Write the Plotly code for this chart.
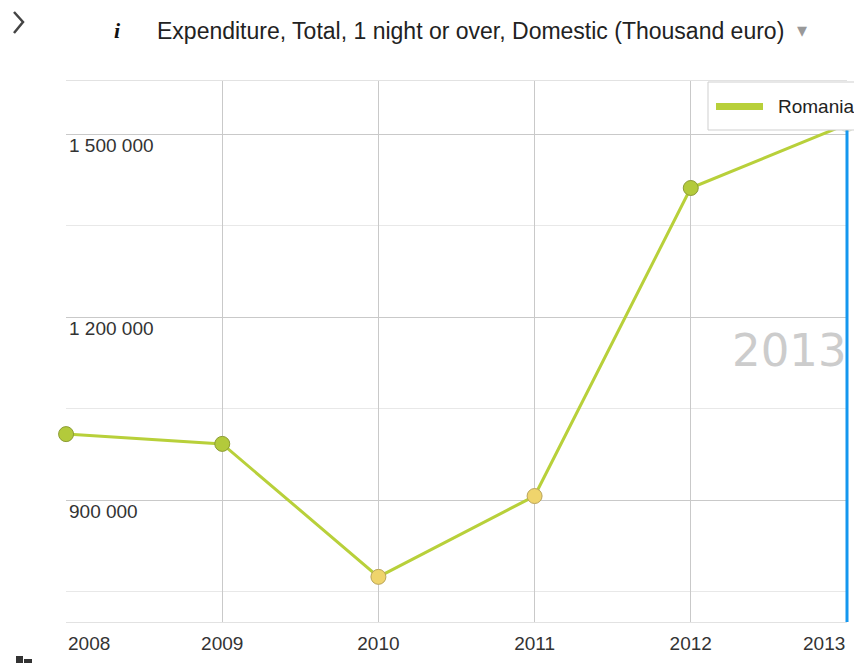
import plotly.graph_objects as go

years = [2008, 2009, 2010, 2011, 2012, 2013]
values = [1008000, 992000, 774000, 906500, 1411500, 1516000]
marker_fill = ["#b3ca3b", "#b3ca3b", "#efd46c", "#efd46c", "#b3ca3b", "#f4f6ea"]
marker_edge = ["#8c9c35", "#8c9c35", "#b9a45a", "#b9a45a", "#8c9c35", "#dfe3cf"]
series_name = "Romania"
title_text = "Expenditure, Total, 1 night or over, Domestic (Thousand euro)"
y_ticks = [900000, 1200000, 1500000]
y_tick_labels = ["900 000", "1 200 000", "1 500 000"]
highlight_year = 2013
Y_MIN, Y_MAX = 700000, 1586900

FONT = "Liberation Sans, Arial, sans-serif"
LINE_COLOR = "#b8d03a"

# page has an 8px body margin; figure sized to fit the 862x663 window
W, H = 854, 655
L, R, T, B = 58, 15, 73, 41
PW, PH = W - L - R, H - T - B


def px(x):  # page x -> paper x
    return (x - 8 - L) / PW


def py(y):  # page y -> paper y
    return (H - B - (y - 8)) / PH


fig = go.Figure()
fig.add_trace(go.Scatter(
    x=years, y=values, mode="lines+markers", name=series_name, showlegend=False,
    line=dict(color=LINE_COLOR, width=3),
    marker=dict(size=15, color=marker_fill, line=dict(color=marker_edge, width=1)),
    cliponaxis=False, hoverinfo="x+y",
))

# highlighted year cursor (x position derived from the data)
hv = values[years.index(highlight_year)]
hx = (highlight_year - years[0]) / (years[-1] - years[0])
fig.add_shape(type="line", xref="paper", yref="y", x0=hx, x1=hx,
              y0=Y_MIN, y1=hv - 6000, line=dict(color="#1497ef", width=3), layer="above")

# legend box (drawn manually to match the original widget)
fig.add_shape(type="rect", xref="paper", yref="paper", x0=px(708), x1=px(870), y0=py(130), y1=py(82),
              fillcolor="white", line=dict(color="#cfcfcf", width=1), layer="above")
fig.add_shape(type="line", xref="paper", yref="paper", x0=px(716), x1=px(763), y0=py(106.5), y1=py(106.5),
              line=dict(color=LINE_COLOR, width=7), layer="above")

# chevron at the top-left
fig.add_shape(type="path", xref="paper", yref="paper",
              path=f"M {px(14)},{py(12)} L {px(23)},{py(22)} L {px(14)},{py(33)}",
              line=dict(color="#444", width=2.5))

# small cut-off icon at the bottom-left corner
fig.add_shape(type="rect", xref="paper", yref="paper", x0=px(16), x1=px(23), y0=py(664), y1=py(656),
              fillcolor="#333", line=dict(width=0))
fig.add_shape(type="rect", xref="paper", yref="paper", x0=px(24), x1=px(32), y0=py(664), y1=py(659),
              fillcolor="#333", line=dict(width=0))

# x labels: inner years as tick labels, edge years as inward-aligned annotations
x_ticktext = ["" if i in (0, len(years) - 1) else str(y) for i, y in enumerate(years)]
edge_labels = [
    dict(text=str(years[0]), xref="x", yref="paper", x=years[0], y=py(643),
         xanchor="left", yanchor="middle", showarrow=False,
         font=dict(size=19, color="#333", family=FONT)),
    dict(text=str(years[-1]), xref="x", yref="paper", x=years[-1], y=py(643),
         xanchor="right", yanchor="middle", showarrow=False,
         font=dict(size=19, color="#333", family=FONT)),
]

fig.update_layout(
    width=W, height=H,
    margin=dict(l=L, r=R, t=T, b=B),
    paper_bgcolor="white", plot_bgcolor="white",
    font=dict(family=FONT, size=19, color="#333333"),
    showlegend=False,
    xaxis=dict(range=[years[0] - 0.0005, years[-1] + 0.0005], tickmode="array", tickvals=years,
               ticktext=x_ticktext, automargin=False,
               showgrid=True, gridcolor="#c9c9c9", gridwidth=1,
               zeroline=False, showline=True, linecolor="#e2e2e2", mirror=True,
               ticks="", ticklabelstandoff=4, tickfont=dict(size=19, color="#333")),
    yaxis=dict(range=[Y_MIN, Y_MAX], tickmode="array", tickvals=y_ticks, automargin=False,
               ticktext=y_tick_labels, ticklabelposition="inside bottom", ticklabelshift=-2,
               showgrid=True, gridcolor="#c9c9c9", gridwidth=1,
               minor=dict(dtick=150000, tick0=0, showgrid=True, gridcolor="#e8e8e8", gridwidth=1),
               zeroline=False, showline=False, ticks="",
               tickfont=dict(size=19, color="#333")),
    annotations=edge_labels + [
        dict(text=title_text, xref="paper", yref="paper", x=px(470.5), y=py(31),
             xanchor="center", yanchor="middle", showarrow=False,
             font=dict(size=23, color="#222", family=FONT)),
        dict(text="<b><i>i</i></b>", xref="paper", yref="paper", x=px(117), y=py(31),
             xanchor="center", yanchor="middle", showarrow=False,
             font=dict(size=22, color="#111", family="Liberation Serif, serif")),
        dict(text="▾", xref="paper", yref="paper", x=px(802), y=py(30),
             xanchor="center", yanchor="middle", showarrow=False,
             font=dict(size=20, color="#999", family="DejaVu Sans")),
        dict(text=series_name, xref="paper", yref="paper", x=px(776), y=py(106),
             xanchor="left", yanchor="middle", showarrow=False,
             font=dict(size=19, color="#222", family=FONT)),
        dict(text=str(highlight_year), xref="paper", yref="paper", x=px(849),
             y=py(350), xanchor="right", yanchor="middle", showarrow=False,
             font=dict(size=45, color="#cccccc", family="DejaVu Sans")),
    ],
)
fig.write_html("out.html")
